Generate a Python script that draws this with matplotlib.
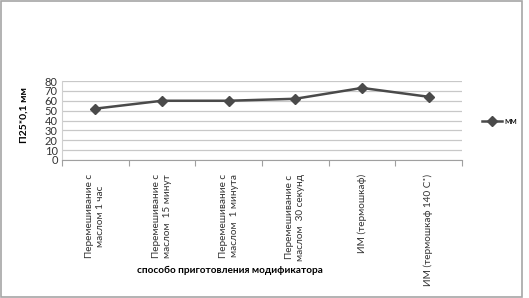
import matplotlib
matplotlib.use("Agg")
import matplotlib.pyplot as plt
from matplotlib.patches import Rectangle
import numpy as np

categories = ["Перемешивание с\nмаслом 1 час",
              "Перемешивание с\nмаслом  15 минут",
              "Перемешивание с\nмаслом  1 минута",
              "Перемешивание с\nмаслом  30 секунд",
              "ИМ (термошкаф)",
              "ИМ (термошкаф 140 С˚)"]
values = [52, 60, 60, 62, 73, 64]
yticks = [0, 10, 20, 30, 40, 50, 60, 70, 80]
series_name = "мм"

plt.rcParams['font.family'] = ['Lato', 'DejaVu Sans']

W, H = 529, 298
fig = plt.figure(figsize=(W/100, H/100), dpi=100)
fig.patch.set_facecolor("white")

# figure border
fig.patches.append(Rectangle((1/W, 1/H), 521/W, 296/H, transform=fig.transFigure,
                             fill=False, edgecolor="#a6a6a6", linewidth=1.2))

left, right = 62, 462
top, bottom = 81, 160
ax = fig.add_axes([left/W, 1 - bottom/H, (right-left)/W, (bottom-top)/H])

x = np.arange(len(categories))
ax.plot(x, values, color="#4a4a4a", linewidth=1.8, marker="D", markersize=5,
        markerfacecolor="#4a4a4a", markeredgecolor="#4a4a4a", label=series_name)

ax.set_xlim(-0.5, len(categories) - 0.5)
ax.set_ylim(0, 80)
ax.set_yticks(yticks)
ax.set_yticklabels([str(t) for t in yticks], fontsize=8, color="#333333")
ax.yaxis.grid(True, color="#c8c8c8", linewidth=0.9)
ax.set_axisbelow(True)
ax.tick_params(axis="y", length=0, pad=3)

ax.set_xticks(np.arange(len(categories) + 1) - 0.5)
ax.set_xticklabels([])
ax.set_xticks(x, minor=True)
ax.set_xticklabels(categories, minor=True, rotation=90, fontsize=7.2,
                   color="#333333", va="top", ha="center", multialignment="center",
                   linespacing=1.3)
ax.tick_params(axis="x", which="major", length=4, color="#a0a0a0", direction="out")
ax.tick_params(axis="x", which="minor", length=0, pad=10)

for s in ["top", "right"]:
    ax.spines[s].set_visible(False)
ax.spines["left"].set_color("#d0d0d0")
ax.spines["bottom"].set_color("#a0a0a0")

fig.text(230/W, 1 - 270/H, "способо приготовления модификатора", fontsize=7.2,
         fontweight="bold", ha="center", va="center", color="black")
fig.text(24/W, 1 - 115/H, "П25*0,1 мм", fontsize=7.5, fontweight="bold",
         rotation=90, ha="center", va="center", color="black")

leg = fig.legend(loc="center left", bbox_to_anchor=(474/W, 1 - 122/H), frameon=False,
                 fontsize=6.5, handlelength=2.2, handletextpad=0.3)

fig.savefig("out.png", dpi=100)
